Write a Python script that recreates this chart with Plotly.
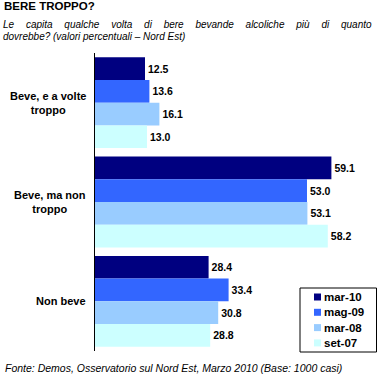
import plotly.graph_objects as go

categories = ["Beve, e a volte<br>troppo", "Beve, ma non<br>troppo", "Non beve"]
series_names = ["mar-10", "mag-09", "mar-08", "set-07"]
values_mar10 = [12.5, 59.1, 28.4]
values_mag09 = [13.6, 53.0, 33.4]
values_mar08 = [16.1, 53.1, 30.8]
values_set07 = [13.0, 58.2, 28.8]
series_values = [values_mar10, values_mag09, values_mar08, values_set07]
colors = ["#000080", "#3366FF", "#99CCFF", "#CCFFFF"]

title = "BERE TROPPO?"
subtitle1 = "Le capita qualche volta di bere bevande alcoliche più di quanto"
subtitle2 = "dovrebbe? (valori percentuali – Nord Est)"
footer = "Fonte: Demos, Osservatorio sul Nord Est, Marzo 2010 (Base: 1000 casi)"

W, H = 384, 379
L, R, T, B = 95, 9, 53, 28
PW, PH = W - L - R, H - T - B
FONT = "Liberation Sans, Arial, sans-serif"


def px(xp, yp):
    return (xp - L) / PW, (H - B - yp) / PH


fig = go.Figure()
for name, vals, col in zip(series_names, series_values, colors):
    fig.add_trace(go.Bar(
        y=categories, x=vals, name=name, orientation="h",
        marker=dict(color=col, line=dict(width=0)),
        texttemplate="%{x:.1f}", textposition="outside",
        textfont=dict(family=FONT, size=10.5, color="black", weight="bold"),
        cliponaxis=False, showlegend=False,
    ))

annotations = []
shapes = []
# category labels
for c in categories:
    annotations.append(dict(
        xref="paper", yref="y", x=px(88, 0)[0], y=c, xanchor="right", yanchor="middle",
        text="<b>" + c + "</b>", showarrow=False, align="center",
        font=dict(family=FONT, size=11, color="black"),
    ))

x0, y0 = px(2, 6)
annotations.append(dict(xref="paper", yref="paper", x=x0, y=y0, xanchor="left", yanchor="middle",
                        text="<b>" + title + "</b>", showarrow=False,
                        font=dict(family=FONT, size=11.5, color="black")))
x0, y0 = px(1, 24.5)
annotations.append(dict(xref="paper", yref="paper", x=x0, y=y0, xanchor="left", yanchor="middle",
                        text="<i><span style='word-spacing:9px'>" + subtitle1 + "</span></i>", showarrow=False,
                        font=dict(family=FONT, size=10, color="black")))
x0, y0 = px(1, 36.5)
annotations.append(dict(xref="paper", yref="paper", x=x0, y=y0, xanchor="left", yanchor="middle",
                        text="<i>" + subtitle2 + "</i>", showarrow=False,
                        font=dict(family=FONT, size=10, color="black")))
x0, y0 = px(3, 368)
annotations.append(dict(xref="paper", yref="paper", x=x0, y=y0, xanchor="left", yanchor="middle",
                        text="<i>" + footer + "</i>", showarrow=False,
                        font=dict(family=FONT, size=10.5, color="black")))

# legend (box, swatches, labels)
bx0, by0 = px(300, 352)
bx1, by1 = px(376.5, 288)
shapes.append(dict(type="rect", xref="paper", yref="paper", x0=bx0, y0=by0, x1=bx1, y1=by1,
                   line=dict(color="black", width=1), fillcolor="white", layer="above"))
for i, (name, col) in enumerate(zip(series_names, colors)):
    cy = 297 + i * 15.3
    sx0, sy0 = px(314, cy + 3.5)
    sx1, sy1 = px(321, cy - 3.5)
    shapes.append(dict(type="rect", xref="paper", yref="paper", x0=sx0, y0=sy0, x1=sx1, y1=sy1,
                       line=dict(width=0), fillcolor=col, layer="above"))
    tx, ty = px(321.5, cy)
    annotations.append(dict(xref="paper", yref="paper", x=tx, y=ty, xanchor="left", yanchor="middle",
                            text="<b>" + name + "</b>", showarrow=False,
                            font=dict(family=FONT, size=11.5, color="black")))

fig.update_layout(
    width=W, height=H,
    margin=dict(l=L, r=R, t=T, b=B, pad=0),
    paper_bgcolor="white", plot_bgcolor="white",
    barmode="group", bargap=0.085, bargroupgap=0,
    font=dict(family=FONT, size=11, color="black"),
    xaxis=dict(range=[0, 70], visible=False, fixedrange=True),
    yaxis=dict(autorange="reversed", showticklabels=False, showline=True,
               linecolor="black", linewidth=1, ticks="", showgrid=False, fixedrange=True),
    annotations=annotations,
    shapes=shapes,
    showlegend=False,
)

fig.write_html("out.html", config={"displayModeBar": False},
               post_script="document.body.style.margin='0';document.body.style.overflow='hidden';")
